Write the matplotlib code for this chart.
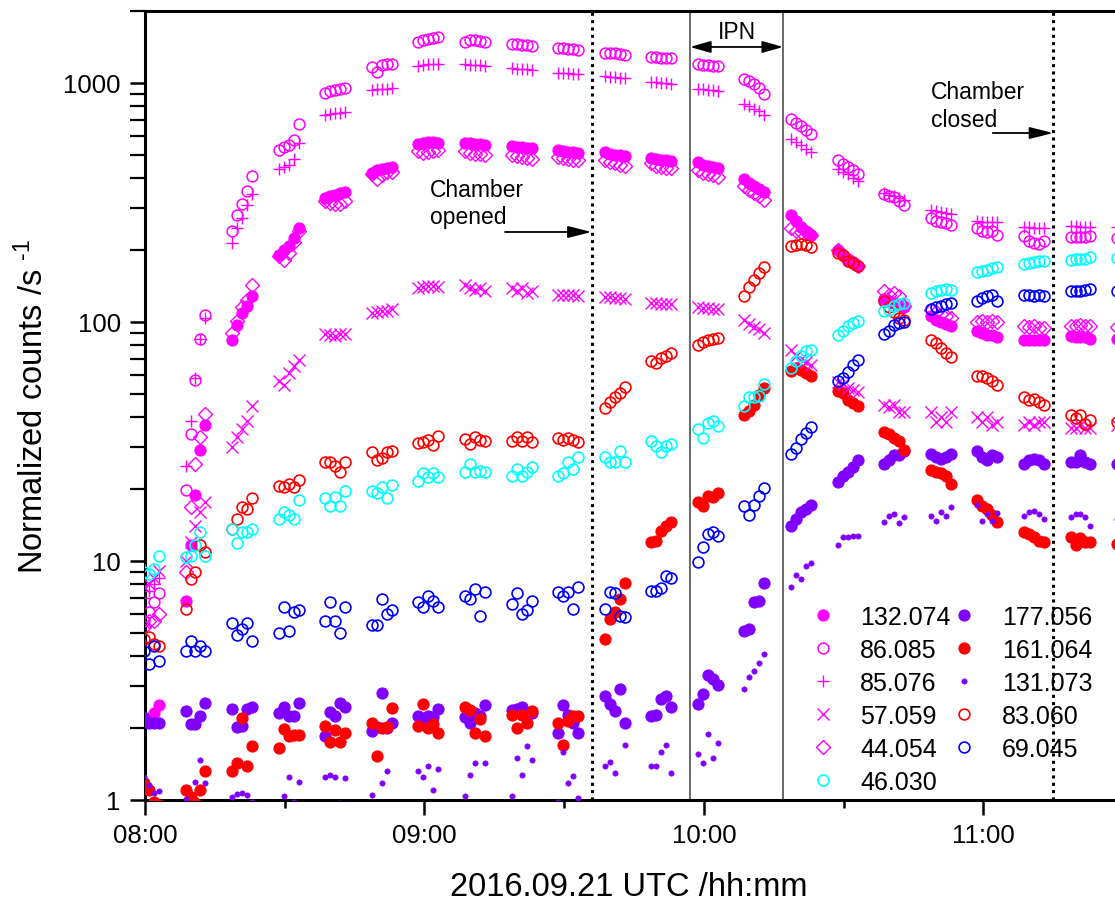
import matplotlib
matplotlib.use("Agg")
import matplotlib.pyplot as plt
from matplotlib.ticker import FixedLocator, FixedFormatter, LogLocator, NullFormatter
from matplotlib.patches import ArrowStyle

plt.rcParams['font.family'] = ['Liberation Sans', 'DejaVu Sans']
plt.rcParams['mathtext.fontset'] = 'custom'
plt.rcParams['mathtext.rm'] = 'Liberation Sans'
plt.rcParams['mathtext.it'] = 'Liberation Sans'

# ---------------- data ----------------
# start of each measurement cluster (minutes after 08:00 UTC) and scan offsets inside a cluster
cluster_start_min = [-1.3, 8.7, 18.7, 28.7, 38.7, 48.7, 58.7, 68.7, 78.7, 88.7, 98.7,
                     108.7, 118.7, 128.7, 138.7, 148.7, 158.7, 168.7, 178.7, 188.7, 198.7, 208.7]
scan_offset_min = [0.0, 1.07, 2.14, 3.21, 4.28]

m132_074 = [[2.1, 2.2, 2.2, 2.3, 2.5], [6.8, 11.6, 18.9, 29, 37], [84, 97, 109, 117, 128],
            [190, 200, 208, 225, 248], [330, 335, 340, 345, 350], [420, 430, 435, 440, 445],
            [555, 560, 565, 565, 560], [560, 560, 555, 555, 550], [545, 540, 540, 535, 535],
            [525, 520, 515, 515, 510], [515, 505, 500, 500, 495], [485, 480, 478, 475, 470],
            [465, 455, 450, 445, 440], [395, 380, 370, 360, 350], [280, 265, 250, 240, 232],
            [200, 190, 183, 178, 172], [125, 122, 120, 118, 115], [106, 102, 100, 98, 96],
            [92, 90, 88, 88, 86], [84, 84, 84, 84, 84], [87, 86, 86, 86, 85], [85, 85, 85, 85, 85]]
m86_085 = [[5.0, 5.6, 6.1, 6.7, 7.3], [19.8, 34, 57, 85, 107], [241, 279, 310, 352, 407],
           [523, 538, 549, 576, 673], [908, 925, 934, 943, 952], [1170, 1110, 1190, 1200, 1200],
           [1480, 1510, 1530, 1540, 1550], [1490, 1510, 1510, 1500, 1490], [1450, 1450, 1440, 1440, 1430],
           [1400, 1395, 1390, 1385, 1380], [1340, 1330, 1330, 1320, 1310], [1290, 1280, 1275, 1270, 1270],
           [1200, 1190, 1185, 1180, 1180], [1040, 1020, 990, 950, 900], [706, 680, 660, 635, 611],
           [475, 457, 444, 431, 415], [342, 335, 332, 319, 307], [273, 265, 262, 260, 255],
           [248, 241, 238, 241, 232], [228, 218, 214, 212, 218], [226, 226, 226, 226, 228],
           [225, 225, 225, 225, 225]]
m85_076 = [[6.5, 7.0, 7.5, 8.0, 8.5], [25, 38.6, 58, 85, 104], [213, 248, 272, 307, 342],
           [435, 444, 452, 480, 560], [735, 740, 745, 750, 755], [930, 945, 945, 945, 950],
           [1180, 1190, 1195, 1200, 1200], [1195, 1190, 1190, 1185, 1180], [1150, 1145, 1140, 1140, 1135],
           [1105, 1100, 1100, 1095, 1090], [1065, 1060, 1055, 1050, 1050], [1010, 1005, 1000, 995, 990],
           [945, 940, 935, 930, 925], [820, 800, 780, 760, 735], [580, 565, 550, 530, 515],
           [435, 425, 415, 400, 390], [345, 340, 335, 330, 325], [295, 290, 288, 285, 283],
           [265, 263, 262, 262, 262], [250, 250, 248, 248, 248], [252, 252, 250, 250, 250],
           [250, 250, 250, 250, 250]]
m57_059 = [[7.5, 7.8, 8.0, 8.5, 9.1], [10, 12, 14, 16, 17.7], [30, 33, 35.6, 38.6, 44.4],
           [56.5, 54.3, 61, 65.5, 69.4], [89, 88, 87, 89, 89], [109, 110, 111, 111, 113],
           [138, 140, 141, 141, 140], [142, 138, 136, 138, 135], [138, 134, 138, 132, 134],
           [130, 130, 129, 129, 128], [127, 127, 126, 126, 125], [120, 120, 119, 119, 119],
           [115, 114, 114, 113, 113], [102, 98, 95, 93, 90], [76, 72, 70, 68, 66],
           [56, 55, 53, 52, 51], [45, 44, 45, 42, 42], [42, 38, 40, 38, 42], [40, 38, 40, 37, 38],
           [37, 38, 37, 38, 38], [36, 36, 37, 36, 36], [37, 37, 37, 37, 37]]
m44_054 = [[5.0, 5.3, 5.6, 5.6, 6.0], [9, 16.8, 25.5, 33, 41], [90, 101, 115, 124, 143],
           [189, 182, 195, 215, 241], [320, 315, 312, 312, 320], [415, 395, 410, 425, 425],
           [520, 510, 515, 520, 525], [520, 510, 505, 505, 500], [500, 495, 490, 485, 480],
           [490, 485, 480, 478, 475], [475, 465, 460, 455, 450], [460, 450, 445, 440, 440],
           [430, 420, 415, 410, 405], [370, 355, 345, 335, 325], [248, 241, 238, 238, 232],
           [200, 190, 182, 177, 172], [135, 130, 132, 128, 117], [112, 110, 108, 106, 104],
           [100, 101, 100, 101, 100], [96, 95, 96, 94, 94], [96, 96, 97, 96, 96], [95, 95, 95, 95, 95]]
m46_030 = [[9.5, 9.0, 8.8, 9.2, 10.5], [10.4, 10.5, 11.6, 13.2, 10.5], [13.6, 11.9, 13.2, 13.2, 13.6],
           [14.9, 16.0, 15.5, 14.9, 18.0], [18.3, 17, 18.5, 17, 19.5], [19.5, 19.3, 20.3, 18.3, 20.7],
           [21.5, 23.2, 22.5, 23.2, 22.5], [23.6, 25.5, 23.6, 23.8, 23.6], [22.7, 24.3, 22.7, 23.6, 24.8],
           [22.7, 23.3, 26, 24.3, 27.3], [27.1, 25.8, 25.8, 28.7, 26], [31.6, 30.2, 28.4, 30.2, 30.7],
           [35.5, 32.5, 37.9, 38.4, 36.8], [44.4, 48.3, 48.3, 48.8, 55.2], [64, 68.7, 72, 75.6, 76.2],
           [88, 92, 96, 99, 101], [111, 112, 116, 119, 120], [132, 135, 136, 137, 136],
           [161, 163, 165, 168, 170], [175, 177, 178, 180, 180], [182, 183, 183, 183, 186],
           [185, 185, 185, 185, 185]]
m177_056 = [[2.2, 2.2, 2.1, 2.1, 2.1], [2.34, 2.07, 2.07, 2.23, 2.53], [2.39, 2.02, 2.04, 2.39, 2.45],
            [2.3, 2.45, 2.23, 2.25, 2.53], [1.84, 2.32, 2.23, 2.55, 2.44], [1.93, 2.02, 2.79, 2.0, 2.1],
            [2.25, 2.19, 2.23, 2.21, 2.39], [2.21, 2.1, 2.3, 2.23, 2.48], [2.37, 2.39, 2.44, 2.27, 2.3],
            [1.91, 2.48, 2.27, 2.1, 1.91], [2.71, 2.51, 2.34, 2.9, 2.1], [2.23, 2.27, 2.63, 2.71, 2.45],
            [2.51, 2.76, 3.32, 3.19, 3.01], [5.08, 5.18, 6.7, 6.8, 8.1], [14, 15, 16, 16.5, 17.2],
            [21.3, 22.7, 23.6, 24.8, 26.4], [25.5, 26.4, 27.6, 27.6, 28.7], [27.9, 27.3, 26.7, 27.3, 28.1],
            [28.7, 27.3, 26.5, 27.6, 27.3], [25.5, 26.4, 26.7, 26.4, 25.3], [25.8, 26, 27.6, 25.8, 25.5],
            [25.5, 25.5, 25.5, 25.5, 25.5]]
m161_064 = [[1.25, 1.17, 1.1, 0.98, 0.95], [1.1, 1.03, 0.97, 1.1, 1.32], [1.32, 1.42, 2.19, 1.38, 1.67],
            [1.65, 1.97, 1.84, 1.86, 1.86], [2.04, 1.75, 1.95, 1.75, 1.91], [2.1, 1.52, 1.99, 2.02, 2.41],
            [2.04, 2.51, 1.99, 2.07, 1.91], [2.45, 2.37, 1.91, 2.17, 1.84], [2.27, 2.0, 2.27, 2.1, 2.34],
            [2.09, 1.7, 2.13, 2.23, 2.23], [4.7, 5.7, 6.1, 6.9, 8.1], [12, 12.1, 13.3, 14, 14.5],
            [17.7, 17, 18.7, 18.5, 19.3], [40.6, 42.5, 44.8, 49.3, 52.7], [62, 64, 63, 61, 59.6],
            [51.5, 50.5, 47, 45.7, 44.4], [34.5, 33.8, 32.8, 31.6, 29.2], [23.9, 23.6, 23.4, 22.7, 21],
            [17.9, 17, 16.5, 15.5, 14.6], [13.2, 12.9, 12.6, 12.1, 12], [12.6, 11.6, 12.4, 12, 12],
            [11.8, 11.8, 11.8, 11.8, 11.8]]
m131_073 = [[1.2, 1.25, 1.15, 1.07, 1.09], [1.01, 0.95, 1.19, 1.47, 1.17], [1.03, 1.06, 1.07, 1.05, 0.98],
            [0.95, 1.04, 1.25, 0.98, 1.19], [1.25, 1.27, 1.24, 0.97, 1.23], [1.05, 0.95, 1.18, 1.32, 0.9],
            [1.32, 1.25, 1.38, 1.1, 1.34], [1.04, 1.27, 1.42, 0.95, 1.42], [1.04, 1.5, 1.27, 1.67, 1.47],
            [0.98, 1.58, 1.17, 1.26, 1.02], [1.38, 1.44, 1.29, 0.95, 1.69], [1.38, 1.38, 1.58, 1.7, 1.29],
            [1.55, 1.43, 1.88, 1.5, 1.72], [2.92, 3.25, 3.45, 3.72, 4.07], [7.8, 8.7, 8.4, 9.5, 9.8],
            [11.6, 12.6, 12.6, 12.7, 12.7], [14.6, 15.4, 15.7, 14.4, 15.2], [15.4, 14.7, 16, 15.4, 16.8],
            [17.2, 14.7, 15.7, 14.7, 15.9], [15.4, 16, 16.2, 15.7, 14.9], [15.3, 15.7, 15.7, 15.3, 14],
            [15, 15, 15, 15, 15]]
m83_060 = [[4.6, 4.7, 4.8, 4.5, 4.4], [6.3, 8.4, 9.0, 11.6, 10.9], [13.6, 15.0, 16.8, 16.5, 18.3],
           [20.6, 20.4, 21, 20.4, 21.7], [25.8, 26, 25, 23.6, 25.8], [28.4, 26.5, 27, 28.4, 28.7],
           [31, 31.3, 32, 30.4, 33.4], [32.2, 30.7, 33, 32, 31.6], [31.6, 33, 31.6, 33, 31.3],
           [32.7, 32, 32.7, 32, 31.3], [43.6, 46, 48.3, 50.3, 53.4], [68.7, 67.4, 70.6, 72, 74],
           [80, 82.4, 84, 84.5, 85.6], [128, 140, 150, 160, 170], [208, 210, 212, 210, 206],
           [194, 190, 180, 177, 171], [122, 115, 110, 104, 102], [84, 81.4, 77.8, 74.3, 71.3],
           [59.6, 59.6, 58, 56.6, 54.3], [48.3, 47, 47.5, 46.2, 44.8], [40.7, 39.5, 40.7, 37.3, 38.8],
           [38, 38, 38, 38, 38]]
m69_045 = [[4.0, 4.2, 3.7, 4.4, 3.8], [4.2, 4.6, 4.2, 4.4, 4.2], [5.5, 4.9, 5.2, 5.5, 4.6],
           [5.0, 6.4, 5.1, 6.1, 6.2], [5.6, 6.7, 5.6, 5.0, 6.4], [5.4, 5.4, 6.9, 6.0, 6.2],
           [6.7, 6.4, 7.1, 6.8, 6.4], [7.1, 6.9, 7.6, 5.9, 7.4], [6.6, 7.3, 6.0, 6.2, 6.8],
           [7.4, 7.1, 7.4, 6.3, 7.8], [6.3, 7.4, 7.3, 5.9, 5.8], [7.5, 7.5, 7.7, 8.6, 8.5],
           [9.9, 11.4, 13.0, 13.2, 12.7], [16.9, 15.6, 17.2, 18.7, 20.1], [27.9, 29.6, 32.2, 34.2, 36.2],
           [56.6, 58, 61.5, 66, 69.4], [89, 92, 97, 99, 100], [113, 115, 117, 119, 120],
           [122, 126, 128, 130, 122], [130, 129, 128, 129, 128], [135, 135, 134, 136, 137],
           [135, 135, 135, 135, 135]]

legend_order = ['132.074', '86.085', '85.076', '57.059', '44.054', '46.030',
                '177.056', '161.064', '131.073', '83.060', '69.045']

xtick_min = [0, 60, 120, 180]
xtick_labels = ['08:00', '09:00', '10:00', '11:00']
xminor_min = [30, 90, 150]
ytick_vals = [1, 10, 100, 1000]
ytick_labels = ['1', '10', '100', '1000']

chamber_opened_min = 95.9
chamber_closed_min = 195.0
ipn_start_min = 117.0
ipn_end_min = 137.0

# ---------------- styles ----------------
MAG = '#FF00FF'
CYA = '#00FFFF'
RED = '#FF0000'
BLU = '#0000FF'
PUR = '#8000FF'
styles = {
    '132.074': dict(data=m132_074, marker='o', ms=8, mfc=MAG, mec=MAG, mew=0.8, z=3),
    '177.056': dict(data=m177_056, marker='o', ms=8, mfc=PUR, mec=PUR, mew=0.8, z=3.1),
    '161.064': dict(data=m161_064, marker='o', ms=8, mfc=RED, mec=RED, mew=0.8, z=3.2),
    '131.073': dict(data=m131_073, marker='o', ms=3.8, mfc=PUR, mec=PUR, mew=0.5, z=3.3),
    '86.085': dict(data=m86_085, marker='o', ms=7.8, mfc='none', mec=MAG, mew=1.1, z=3.4),
    '85.076': dict(data=m85_076, marker='+', ms=9, mfc='none', mec=MAG, mew=1.0, z=3.5),
    '57.059': dict(data=m57_059, marker='x', ms=8, mfc='none', mec=MAG, mew=1.0, z=3.6),
    '44.054': dict(data=m44_054, marker='D', ms=7.4, mfc='none', mec=MAG, mew=1.0, z=3.7),
    '83.060': dict(data=m83_060, marker='o', ms=7.8, mfc='none', mec=RED, mew=1.2, z=3.8),
    '69.045': dict(data=m69_045, marker='o', ms=7.8, mfc='none', mec=BLU, mew=1.2, z=3.9),
    '46.030': dict(data=m46_030, marker='o', ms=7.8, mfc='none', mec=CYA, mew=1.2, z=4.0),
}

W, H = 1115, 903
fig = plt.figure(figsize=(W / 100, H / 100), dpi=100)
ax = fig.add_axes([145 / W, (H - 800.7) / H, 970 / W, 788.7 / H])

handles = {}
for name, st in styles.items():
    xs, ys = [], []
    for c, start in enumerate(cluster_start_min):
        for k, off in enumerate(scan_offset_min):
            xs.append(start + off)
            ys.append(st['data'][c][k])
    ln, = ax.plot(xs, ys, linestyle='none', marker=st['marker'], ms=st['ms'],
                  mfc=st['mfc'], mec=st['mec'], mew=st['mew'], zorder=st['z'], label=name)
    handles[name] = ln

ax.set_yscale('log')
ax.set_xlim(0, 208.25)
ax.set_ylim(1, 2000)

ax.xaxis.set_major_locator(FixedLocator(xtick_min))
ax.xaxis.set_major_formatter(FixedFormatter(xtick_labels))
ax.xaxis.set_minor_locator(FixedLocator(xminor_min))
ax.yaxis.set_major_locator(FixedLocator(ytick_vals))
ax.yaxis.set_major_formatter(FixedFormatter(ytick_labels))
ax.yaxis.set_minor_locator(LogLocator(base=10, subs=[2, 3, 4, 5, 6, 7, 8, 9]))
ax.yaxis.set_minor_formatter(NullFormatter())

ax.tick_params(axis='both', which='major', direction='out', width=1.8, labelsize=18.5, colors='black')
ax.tick_params(axis='x', which='major', length=10.5, pad=6)
ax.tick_params(axis='x', which='minor', direction='out', length=6, width=1.8)
ax.tick_params(axis='y', which='major', length=10.5, pad=7)
ax.tick_params(axis='y', which='minor', direction='out', length=10.5, width=1.6)

for side in ['left', 'bottom', 'top']:
    ax.spines[side].set_linewidth(2.2)
ax.spines['right'].set_visible(False)

ax.set_xlabel('2016.09.21 UTC /hh:mm', fontsize=23.5)
ax.set_ylabel('Normalized counts /s $^{\\text{-1}}$', fontsize=23.5)
ax.xaxis.set_label_coords((629 - 145) / 970, (800.7 - 872) / 788.7)
ax.yaxis.set_label_coords((50 - 145) / 970, 0.5)

# event lines
ax.axvline(chamber_opened_min, color='black', linestyle=(0, (1, 1.4)), lw=2.2, zorder=2)
ax.axvline(chamber_closed_min, color='black', linestyle=(0, (1, 1.4)), lw=2.2, zorder=2)
ax.axvline(ipn_start_min, color='#505050', lw=1.2, zorder=2)
ax.axvline(ipn_end_min, color='#505050', lw=1.2, zorder=2)

arrow_style = ArrowStyle('-|>', head_length=1.6, head_width=0.4)
darrow_style = ArrowStyle('<|-|>', head_length=1.4, head_width=0.4)
trans = ax.get_xaxis_transform()

ax.annotate('', xy=(chamber_opened_min, 0.7198), xytext=(77.3, 0.7198), xycoords=trans, textcoords=trans,
            arrowprops=dict(arrowstyle=arrow_style, color='black', lw=1.3, mutation_scale=9,
                            shrinkA=0, shrinkB=0))
ax.text(61.2, 0.7883, 'Chamber\nopened', transform=trans, fontsize=16.5, ha='left', va='top',
        linespacing=1.25)

ax.annotate('', xy=(chamber_closed_min, 0.8453), xytext=(182.0, 0.8453), xycoords=trans, textcoords=trans,
            arrowprops=dict(arrowstyle=arrow_style, color='black', lw=1.3, mutation_scale=9,
                            shrinkA=0, shrinkB=0))
ax.text(168.7, 0.9125, 'Chamber\nclosed', transform=trans, fontsize=16.5, ha='left', va='top',
        linespacing=1.25)

ax.annotate('', xy=(ipn_end_min, 0.9544), xytext=(ipn_start_min, 0.9544), xycoords=trans, textcoords=trans,
            arrowprops=dict(arrowstyle=darrow_style, color='black', lw=1.3, mutation_scale=9,
                            shrinkA=0, shrinkB=0))
ax.text((ipn_start_min + ipn_end_min) / 2, 0.9735, 'IPN', transform=trans, fontsize=16.5,
        ha='center', va='center')

leg = ax.legend(handles=[handles[n] for n in legend_order], labels=legend_order, ncol=2,
                loc='upper left', bbox_to_anchor=(810 / W, 1 - 606 / H), bbox_transform=fig.transFigure,
                frameon=False, fontsize=18, handlelength=1.0, handletextpad=1.0,
                columnspacing=0.05, labelspacing=0.36, borderpad=0, borderaxespad=0,
                markerscale=1.0, numpoints=1)
leg.set_zorder(10)

fig.savefig('out.png', dpi=100)
